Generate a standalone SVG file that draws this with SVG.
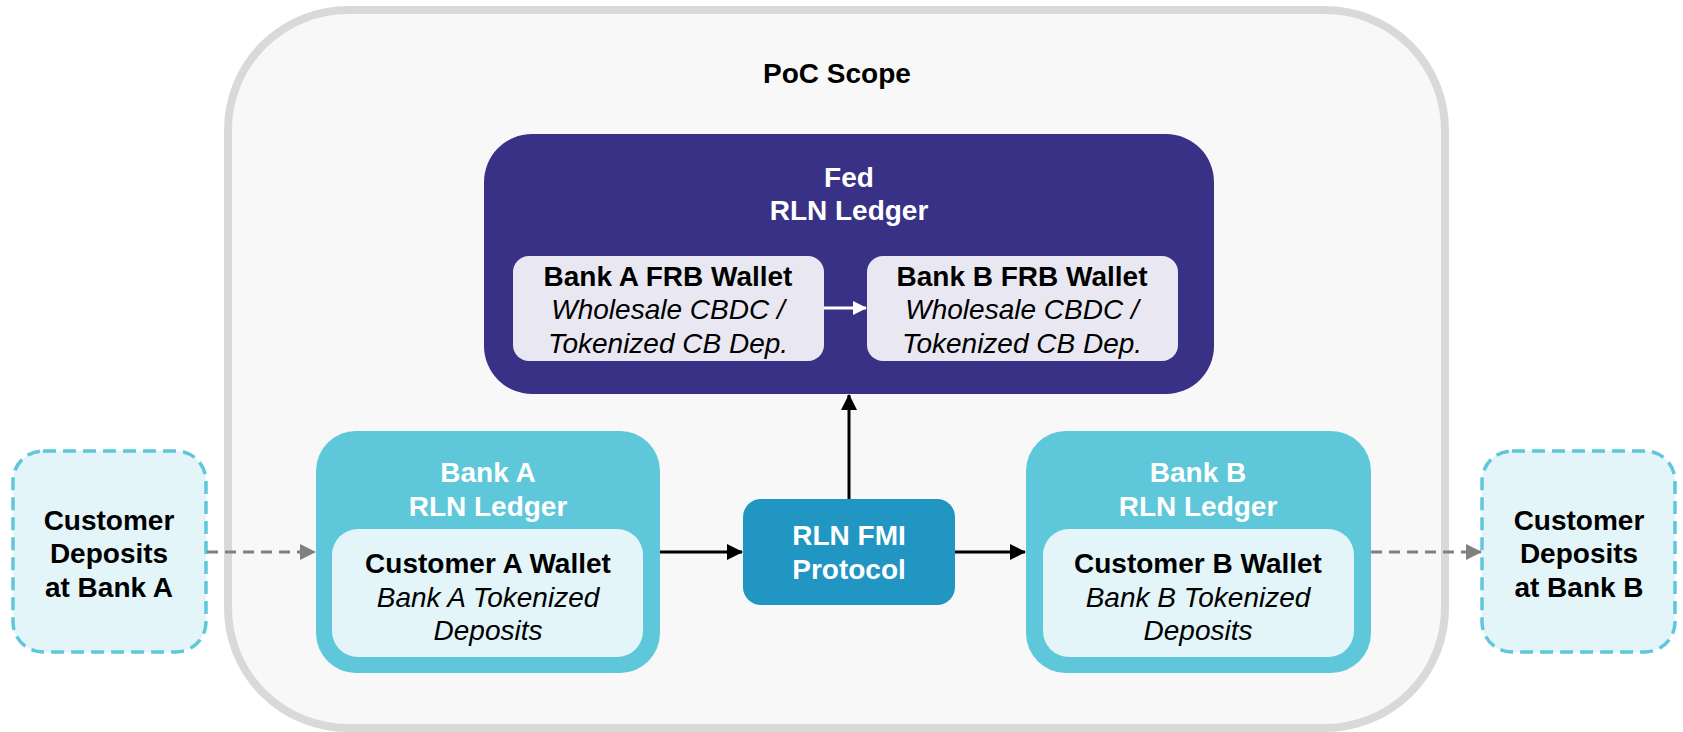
<svg xmlns="http://www.w3.org/2000/svg" width="1683" height="732" viewBox="0 0 1683 732">
<defs>
<style>
text{font-family:"Liberation Sans",Arial,sans-serif;font-size:28px;text-anchor:middle}
.b{font-weight:bold}
.i{font-style:italic}
.w{fill:#ffffff}
.k{fill:#000000}
.conn{fill:none;stroke-width:3}
</style>
<marker id="ab" markerUnits="userSpaceOnUse" markerWidth="16" markerHeight="16" refX="15" refY="8" orient="auto"><path d="M0,0 L16,8 L0,16 Z" fill="#000"/></marker>
<marker id="aw" markerUnits="userSpaceOnUse" markerWidth="14" markerHeight="14" refX="13" refY="7" orient="auto"><path d="M0,0 L14,7 L0,14 Z" fill="#fff"/></marker>
<marker id="ag" markerUnits="userSpaceOnUse" markerWidth="16" markerHeight="16" refX="15" refY="8" orient="auto"><path d="M0,0 L16,8 L0,16 Z" fill="#808080"/></marker>
</defs>
<rect width="1683" height="732" fill="#ffffff"/>
<g id="poc-scope">
<rect x="228" y="10" width="1217" height="718" rx="120" fill="#f8f8f8" stroke="#d9d9d9" stroke-width="8"/>
<text class="b k" x="837" y="83">PoC Scope</text>
</g>
<g id="fed-ledger">
<rect x="484" y="134" width="730" height="260" rx="48" fill="#393185"/>
<text class="b w" x="849" y="187">Fed</text>
<text class="b w" x="849" y="220">RLN Ledger</text>
</g>
<g id="bank-a-frb-wallet">
<rect x="513" y="256" width="311" height="105" rx="16" fill="#e9e8f2"/>
<text class="b k" x="668" y="286">Bank A FRB Wallet</text>
<text class="i k" x="668" y="319">Wholesale CBDC /</text>
<text class="i k" x="668" y="353">Tokenized CB Dep.</text>
</g>
<g id="bank-b-frb-wallet">
<rect x="867" y="256" width="311" height="105" rx="16" fill="#e9e8f2"/>
<text class="b k" x="1022" y="286">Bank B FRB Wallet</text>
<text class="i k" x="1022" y="319">Wholesale CBDC /</text>
<text class="i k" x="1022" y="353">Tokenized CB Dep.</text>
</g>
<g id="bank-a-ledger">
<rect x="316" y="431" width="344" height="242" rx="40" fill="#5ec8da"/>
<text class="b w" x="488" y="482">Bank A</text>
<text class="b w" x="488" y="516">RLN Ledger</text>
<rect x="332" y="529" width="311" height="128" rx="26" fill="#e3f5f8"/>
<text class="b k" x="488" y="573">Customer A Wallet</text>
<text class="i k" x="488" y="607">Bank A Tokenized</text>
<text class="i k" x="488" y="640">Deposits</text>
</g>
<g id="bank-b-ledger">
<rect x="1026" y="431" width="345" height="242" rx="40" fill="#5ec8da"/>
<text class="b w" x="1198" y="482">Bank B</text>
<text class="b w" x="1198" y="516">RLN Ledger</text>
<rect x="1043" y="529" width="311" height="128" rx="26" fill="#e3f5f8"/>
<text class="b k" x="1198" y="573">Customer B Wallet</text>
<text class="i k" x="1198" y="607">Bank B Tokenized</text>
<text class="i k" x="1198" y="640">Deposits</text>
</g>
<g id="rln-fmi">
<rect x="743" y="499" width="212" height="106" rx="18" fill="#2196c3"/>
<text class="b w" x="849" y="545">RLN FMI</text>
<text class="b w" x="849" y="579">Protocol</text>
</g>
<g id="customer-deposits-a">
<rect x="13" y="451" width="193" height="201" rx="30" fill="#e3f5f8" stroke="#5ec8da" stroke-width="3.5" stroke-dasharray="13 7"/>
<text class="b k" x="109" y="530">Customer</text>
<text class="b k" x="109" y="563">Deposits</text>
<text class="b k" x="109" y="597">at Bank A</text>
</g>
<g id="customer-deposits-b">
<rect x="1482" y="451" width="193" height="201" rx="30" fill="#e3f5f8" stroke="#5ec8da" stroke-width="3.5" stroke-dasharray="13 7"/>
<text class="b k" x="1579" y="530">Customer</text>
<text class="b k" x="1579" y="563">Deposits</text>
<text class="b k" x="1579" y="597">at Bank B</text>
</g>
<g id="connectors">
<line class="conn" x1="824" y1="308" x2="866" y2="308" stroke="#fff" marker-end="url(#aw)"/>
<line class="conn" x1="849" y1="499" x2="849" y2="395" stroke="#000" marker-end="url(#ab)"/>
<line class="conn" x1="660" y1="552" x2="742" y2="552" stroke="#000" marker-end="url(#ab)"/>
<line class="conn" x1="955" y1="552" x2="1025" y2="552" stroke="#000" marker-end="url(#ab)"/>
<line class="conn" x1="207" y1="552" x2="315" y2="552" stroke="#808080" stroke-dasharray="11 7" marker-end="url(#ag)"/>
<line class="conn" x1="1371" y1="552" x2="1481" y2="552" stroke="#808080" stroke-dasharray="11 7" marker-end="url(#ag)"/>
</g>
</svg>
